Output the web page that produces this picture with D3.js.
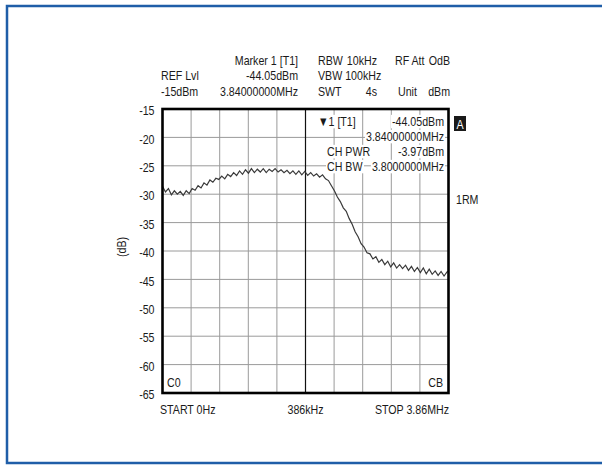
<!DOCTYPE html>
<html>
<head>
<meta charset="utf-8">
<script src="https://cdn.jsdelivr.net/npm/d3@7"></script>
<style>
  html, body { margin: 0; padding: 0; background: #fff; }
  svg { display: block; }
  text { font-family: "Liberation Sans", Arial, sans-serif; fill: #1a1a1a; }
</style>
</head>
<body>
<svg id="chart" width="602" height="465"></svg>
<script>
// ---- data ----
const yTicks = [-15, -20, -25, -30, -35, -40, -45, -50, -55, -60, -65];
const xDomainMHz = [0, 3.86];
const gridDivisions = [0, 0.386, 0.772, 1.158, 1.544, 1.93, 2.316, 2.702, 3.088, 3.474, 3.86];
const centerFreqMHz = 1.93;
const bottomLabels = ["START 0Hz", "386kHz", "STOP 3.86MHz"];
const yAxisTitle = "(dB)";

const freqMHz = [0,0.04,0.08,0.12,0.16,0.2,0.24,0.28,0.32,0.36,0.4,0.44,0.48,0.52,0.56,0.6,0.64,0.68,0.72,0.76,
  0.8,0.84,0.88,0.92,0.96,1,1.04,1.08,1.12,1.16,1.2,1.24,1.28,1.32,1.36,1.4,1.44,1.48,1.52,1.56,
  1.6,1.64,1.68,1.72,1.76,1.8,1.84,1.88,1.92,1.96,2,2.04,2.08,2.12,2.16,2.2,2.24,2.28,2.32,2.36,
  2.4,2.44,2.48,2.52,2.56,2.6,2.64,2.68,2.72,2.76,2.8,2.84,2.88,2.92,2.96,3,3.04,3.08,3.12,3.16,
  3.2,3.24,3.28,3.32,3.36,3.4,3.44,3.48,3.52,3.56,3.6,3.64,3.68,3.72,3.76,3.8,3.84,3.86];
const levelDb = [-28.6,-29.6,-29.0,-30.1,-29.4,-30.0,-29.5,-30.2,-29.4,-29.9,-29.0,-29.3,-28.5,-28.9,-28.0,-28.4,-27.5,-27.9,-27.2,-27.4,
  -26.8,-27.3,-26.5,-26.9,-26.2,-26.7,-25.9,-26.5,-25.7,-26.3,-25.5,-26.2,-25.6,-26.1,-25.5,-26.2,-25.6,-26.0,-25.5,-26.1,
  -25.7,-26.2,-25.8,-26.4,-25.9,-26.5,-25.9,-26.6,-26.0,-26.7,-26.2,-26.8,-26.4,-27.0,-26.6,-27.3,-27.6,-28.5,-29.4,-30.5,
  -31.3,-32.4,-33.0,-34.3,-35.3,-36.6,-37.5,-38.7,-39.3,-40.3,-40.5,-41.4,-41.0,-42.0,-41.5,-42.4,-41.8,-42.8,-42.1,-43.0,
  -42.4,-43.1,-42.5,-43.4,-42.7,-43.6,-42.9,-43.8,-43.0,-44.0,-43.2,-44.1,-43.5,-44.3,-43.6,-44.4,-43.7,-43.5];

const headerLeft = ["REF Lvl", "-15dBm"];
const headerMarker = ["Marker 1 [T1]", "-44.05dBm", "3.84000000MHz"];
const headerBw = [["RBW", "10kHz"], ["VBW 100kHz", ""], ["SWT", "4s"]];
const headerRight = [["RF Att", "OdB"], ["", ""], ["Unit", "dBm"]];
const markerBox = [["\u25BC1 [T1]", "-44.05dBm"], ["", "3.84000000MHz"], ["CH PWR", "-3.97dBm"], ["CH BW", "3.8000000MHz"]];
const cornerLabels = ["C0", "CB"];
const sideLabel = "1RM";
const traceLabel = "A";

// ---- drawing ----
const svg = d3.select("#chart");
const L = 162.5, R = 448.5, T = 109, B = 393;
const x = d3.scaleLinear().domain(xDomainMHz).range([L, R]);
const y = d3.scaleLinear().domain([-65, -15]).range([B, T]);
const fs = 13.3, sx = 0.8;

function txt(g, px, py, s, anchor) {
  return g.append("text")
    .attr("transform", `translate(${px},${py}) scale(${sx},1)`)
    .attr("text-anchor", anchor || "start")
    .style("font-size", fs + "px")
    .text(s);
}

// outer blue frame
svg.append("rect").attr("x", 7).attr("y", 6).attr("width", 640).attr("height", 457)
  .attr("fill", "none").attr("stroke", "#1f5ea8").attr("stroke-width", 2.5);

// grid
const grid = svg.append("g");
grid.selectAll("line.h").data(yTicks).join("line")
  .attr("x1", L).attr("x2", R).attr("y1", d => y(d)).attr("y2", d => y(d))
  .attr("stroke", "#9a9a9a").attr("stroke-width", 1);
grid.selectAll("line.v").data(gridDivisions).join("line")
  .attr("y1", T).attr("y2", B).attr("x1", d => x(d)).attr("x2", d => x(d))
  .attr("stroke", d => d === centerFreqMHz ? "#111" : "#9a9a9a").attr("stroke-width", d => d === centerFreqMHz ? 1.2 : 1);

// trace
const line = d3.line().x((d, i) => x(freqMHz[i])).y(d => y(d));
svg.append("path").datum(levelDb).attr("d", line)
  .attr("fill", "none").attr("stroke", "#3a3a3a").attr("stroke-width", 1.2);

// annotation box text with white background
const annBg = svg.append("g"), annTx = svg.append("g");
const annRows = [126, 141, 156, 171];
markerBox.forEach((row, i) => {
  if (row[0]) txt(annTx, i === 0 ? 318 : 327, annRows[i], row[0]);
  if (row[1]) txt(annTx, 444, annRows[i], row[1], "end");
});
const svgRect = svg.node().getBoundingClientRect();
annTx.selectAll("text").each(function() {
  const b = this.getBoundingClientRect();
  annBg.append("rect").attr("x", b.left - svgRect.left - 1).attr("y", b.top - svgRect.top + 1)
    .attr("width", b.width + 2).attr("height", b.height - 2).attr("fill", "#fff");
});

// plot border
svg.append("rect").attr("x", L).attr("y", T).attr("width", R - L).attr("height", B - T)
  .attr("fill", "none").attr("stroke", "#000").attr("stroke-width", 2.6);

// y axis labels
const yAxis = d3.axisLeft(y).tickValues(yTicks).tickSize(0).tickPadding(10).tickFormat(d => String(d));
const gy = svg.append("g").attr("transform", `translate(${L},1.5)`).call(yAxis);
gy.select(".domain").remove();
gy.selectAll("text").style("font-size", fs + "px").style("font-family", null)
  .attr("fill", "#1a1a1a").attr("transform", `scale(${sx},1)`);

svg.append("text").attr("transform", `translate(126,${(T + B) / 2 - 4}) rotate(-90) scale(${sx},1)`)
  .attr("text-anchor", "middle").style("font-size", fs + "px").text(yAxisTitle);

// bottom labels
const bl = svg.append("g");
txt(bl, 160, 414, bottomLabels[0]);
txt(bl, x(centerFreqMHz), 414, bottomLabels[1], "middle");
txt(bl, 449, 414, bottomLabels[2], "end");

// corner labels
txt(bl, 167, 387, cornerLabels[0]);
txt(bl, 443, 387, cornerLabels[1], "end");
txt(bl, 456, 204, sideLabel);

// trace label box
svg.append("rect").attr("x", 454).attr("y", 116).attr("width", 12).attr("height", 15).attr("fill", "#1a1a1a");
txt(svg, 460, 128.5, traceLabel, "middle").style("fill", "#fff");

// header
const hd = svg.append("g");
const rows = [65, 80, 96];
txt(hd, 161, rows[1], headerLeft[0]);
txt(hd, 161, rows[2], headerLeft[1]);
headerMarker.forEach((t, i) => txt(hd, 298, rows[i], t, "end"));
headerBw.forEach((r, i) => {
  if (r[0]) txt(hd, 318, rows[i], r[0]);
  if (r[1]) txt(hd, 377, rows[i], r[1], "end");
});
headerRight.forEach((r, i) => {
  if (r[0]) txt(hd, i === 0 ? 395 : 398, rows[i], r[0]);
  if (r[1]) txt(hd, 450, rows[i], r[1], "end");
});
</script>
</body>
</html>
